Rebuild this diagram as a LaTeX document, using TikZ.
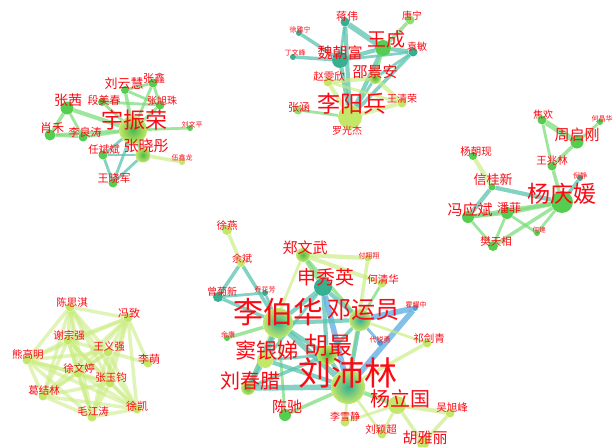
\documentclass[tikz,border=0pt]{standalone}
\usepackage{fontspec}
\newfontfamily\cjk{Noto Sans CJK SC}
\pgfdeclarelayer{bg}
\pgfsetlayers{bg,main}
\definecolor{labred}{RGB}{250,10,20}
\definecolor{cG}{RGB}{85,205,80}
\definecolor{cLG}{RGB}{140,225,110}
\definecolor{cT}{RGB}{55,175,145}
\definecolor{cY}{RGB}{195,232,105}
\definecolor{cB}{RGB}{80,160,215}
\definecolor{edT}{RGB}{90,195,175}
\definecolor{edG}{RGB}{125,220,125}
\definecolor{edY}{RGB}{200,235,125}
\definecolor{edB}{RGB}{110,180,230}
\tikzset{
  vtx/.style={circle, inner sep=0pt, draw=none},
  nG/.style={fill=cG}, nLG/.style={fill=cLG}, nT/.style={fill=cT},
  nY/.style={fill=cY}, nB/.style={fill=cB},
  nYG/.style={shading=radial, inner color=cG!90!black, outer color=cY},
  nYT/.style={shading=radial, inner color=cT, outer color=cY},
  lab/.style={text=labred, inner sep=0pt},
  eT/.style={draw=edT, opacity=0.75, line width=1.4*#1pt}, eT/.default=2,
  eG/.style={draw=edG, opacity=0.75, line width=1.4*#1pt}, eG/.default=2,
  eY/.style={draw=edY, opacity=0.65, line width=1.4*#1pt}, eY/.default=2,
  eB/.style={draw=edB, opacity=0.85, line width=1.4*#1pt}, eB/.default=3,
}
\newcommand\vx[5]{\node[vtx, minimum size=#4pt, #5] (#1) at (#2,#3) {};}
\newcommand\lb[5]{\node[lab, font=\cjk\fontsize{#4}{#4}\selectfont] (l#1) at (#2,#3) {#5};}
\begin{document}
\begin{tikzpicture}[x=1pt,y=-1pt]
\useasboundingbox (0,0) rectangle (614,447);
% ---------------- cluster 1
\vx{yzr}{133}{130}{28}{nYG}
\vx{lyh}{125}{90}{8}{nG}
\vx{zx}{153}{83}{9}{nG}
\vx{zq}{67}{108}{13}{nG}
\vx{dmc}{102}{102}{8}{nG}
\vx{zxz}{160}{105}{9}{nG}
\vx{xh}{50}{135}{11}{nG}
\vx{llt}{83}{137}{9}{nG}
\vx{lwp}{190}{128}{6}{nG}
\vx{zxt}{143}{155}{15}{nYG}
\vx{rbb}{103}{155}{9}{nG}
\vx{wxl}{182}{162}{6}{nY}
\vx{wxj}{113}{183}{9}{nG}
% ---------------- cluster 2
\vx{lyb}{350}{117}{24}{nY}
\vx{wc}{383}{48}{16}{nG}
\vx{wcf}{340}{60}{16}{nT}
\vx{sja}{375}{78}{12}{nYG}
\vx{jw}{345}{22}{9}{nT}
\vx{tn}{410}{20}{9}{nLG}
\vx{ym}{413}{52}{9}{nT}
\vx{xyn}{299}{33}{6}{nT}
\vx{dwf}{293}{57}{6}{nT}
\vx{zwx}{328}{82}{9}{nY}
\vx{wqr}{402}{103}{9}{nY}
\vx{zh}{298}{110}{9}{nLG}
\vx{lgj}{347}{126}{6}{nY}
% ---------------- cluster 3
\vx{yqy}{562}{202}{22}{nG}
\vx{zqg}{577}{142}{13}{nG}
\vx{jh}{542}{120}{9}{nG}
\vx{hjh}{600}{122}{6}{nG}
\vx{wzl}{552}{166}{9}{nG}
\vx{ycx}{473}{156}{8}{nG}
\vx{xgx}{492}{187}{7}{nG}
\vx{nj}{580}{178}{6}{nT}
\vx{fyb}{468}{217}{12}{nG}
\vx{pf}{507}{213}{12}{nG}
\vx{hj}{537}{233}{6}{nG}
\vx{ftx}{493}{246}{10}{nG}
% ---------------- cluster 4
\vx{csq}{70}{307}{9}{nY}
\vx{fz}{128}{318}{9}{nY}
\vx{xzq}{68}{340}{9}{nY}
\vx{wyq}{108}{352}{9}{nY}
\vx{xgm}{27}{360}{9}{nY}
\vx{lm}{148}{363}{9}{nY}
\vx{xwt}{78}{373}{9}{nY}
\vx{zyj}{110}{383}{9}{nY}
\vx{gjl}{43}{396}{9}{nY}
\vx{xk}{137}{409}{9}{nY}
\vx{mjt}{92}{417}{9}{nY}
% ---------------- cluster 5
\vx{xy}{227}{230}{10}{nY}
\vx{yb}{241}{263}{8}{nY}
\vx{zww}{303}{255}{14}{nYG}
\vx{fxx}{368}{258}{7}{nY}
\vx{sxy}{323}{287}{18}{nT}
\vx{hqh}{382}{283}{9}{nY}
\vx{cjx}{218}{297}{10}{nT}
\vx{qhf}{265}{293}{6}{nT}
\vx{lbh}{278}{323}{30}{nYT}
\vx{dyy}{360}{320}{22}{nYT}
\vx{hyz}{415}{308}{6}{nB}
\vx{yk}{227}{338}{6}{nG}
\vx{yyd}{265}{360}{16}{nY}
\vx{hz}{327}{355}{20}{nYG}
\vx{dry}{380}{343}{6}{nB}
\vx{qjq}{427}{343}{9}{nY}
\vx{lpl}{348}{387}{34}{nYT}
\vx{lcl}{248}{388}{14}{nYG}
\vx{ylg}{397}{405}{18}{nY}
\vx{cc}{285}{415}{12}{nG}
\vx{wxf}{450}{413}{9}{nY}
\vx{lxj}{345}{422}{9}{nY}
\vx{lyc}{382}{434}{9}{nY}
\vx{hyl}{423}{443}{12}{nY}
% ---------------- edges
\begin{pgfonlayer}{bg}
% cluster 1
\draw[eG=2.5] (yzr) -- (lyh);
\foreach \b in {zx,zxz,dmc,xh,llt,lwp} \draw[eG=2] (yzr) -- (\b);
\draw[eG=3] (yzr) -- (zq);
\draw[eG=3] (yzr) -- (zxt);
\draw[eT=2] (yzr) -- (rbb);
\draw[eT=2] (yzr) -- (wxj);
\draw[eG=2.5] (zq) -- (xh);
\draw[eG=2] (zq) -- (llt);
\draw[eG=2] (xh) -- (llt);
\draw[eG=2] (lyh) -- (zx);
\draw[eG=2] (lyh) -- (zxz);
\draw[eG=2] (zx) -- (zxz);
\draw[eG=2] (dmc) -- (zxz);
\draw[eY=2.5] (zxt) -- (wxl);
\draw[eT=2] (zxt) -- (wxj);
\draw[eT=2] (rbb) -- (wxj);
\draw[eT=2] (zxt) -- (rbb);
% cluster 2
\draw[eT=3] (lyb) -- (jw);
\draw[eT=3] (lyb) -- (wc);
\draw[eT=2.5] (lyb) -- (ym);
\draw[eT=3] (lyb) -- (wcf);
\draw[eT=4] (jw) -- (wc);
\draw[eT=2] (jw) -- (wcf);
\draw[eT=3] (wc) -- (ym);
\draw[eT=3] (wc) -- (wcf);
\draw[eT=2.5] (wcf) -- (xyn);
\draw[eT=2.5] (wcf) -- (dwf);
\draw[eT=2] (wcf) -- (ym);
\draw[eT=2] (sja) -- (ym);
\draw[eT=2] (lyb) -- (sja);
\draw[eG=2.5] (wc) -- (tn);
\draw[eG=2] (lyb) -- (zh);
\draw[eG=2] (wc) -- (sja);
\draw[eY=3] (lyb) -- (zwx);
\draw[eY=3] (lyb) -- (wqr);
\draw[eY=3] (zwx) -- (sja);
\draw[eY=3] (sja) -- (wqr);
\draw[eY=2] (zwx) -- (wqr);
\draw[eY=2] (lyb) -- (lgj);
% cluster 3
\draw[eG=2.5] (yqy) -- (wzl);
\draw[eG=2] (wzl) -- (jh);
\draw[eG=2.5] (wzl) -- (zqg);
\draw[eG=4] (jh) -- (zqg);
\draw[eG=2] (zqg) -- (hjh);
\draw[eG=3] (yqy) -- (fyb);
\draw[eG=3] (yqy) -- (pf);
\draw[eG=2.5] (fyb) -- (pf);
\draw[eG=2.5] (yqy) -- (ftx);
\draw[eG=2] (yqy) -- (hj);
\draw[eG=2] (pf) -- (ftx);
\draw[eG=2] (pf) -- (hj);
\draw[eG=2] (fyb) -- (ftx);
\draw[eY=3] (xgx) -- (ycx);
\draw[eT=2.5] (yqy) -- (nj);
\draw[eT=3] (yqy) -- (xgx);
\draw[eT=3] (xgx) -- (fyb);
% cluster 4
\foreach \a [count=\i] in {csq,fz,xzq,wyq,xgm,xwt,zyj,gjl,xk,mjt}{
  \foreach \b [count=\j] in {csq,fz,xzq,wyq,xgm,xwt,zyj,gjl,xk,mjt}{
    \ifnum\j>\i \draw[eY=2.5, opacity=0.55] (\a) -- (\b); \fi
  }
}
\draw[eY=2.5, opacity=0.55] (lm) -- (fz);
\draw[eY=2.5, opacity=0.55] (lm) -- (wyq);
% cluster 5
\draw[eY=2.5] (xy) -- (yb);
\draw[eY=3] (zww) -- (fxx);
\draw[eY=3] (zww) -- (hqh);
\draw[eY=2] (zww) -- (lcl);
\draw[eY=2.5] (fxx) -- (lpl);
\draw[eG=2] (hqh) -- (dyy);
\draw[eG=3] (zww) -- (sxy);
\draw[eG=2.5] (zww) -- (dyy);
\draw[eT=2.5] (yb) -- (cjx);
\draw[eT=2.5] (yb) -- (lbh);
\draw[eT=2] (cjx) -- (qhf);
\draw[eT=2.5] (cjx) -- (lbh);
\draw[eT=2] (qhf) -- (lbh);
\draw[eT=3] (sxy) -- (lbh);
\draw[eT=3] (sxy) -- (dyy);
\draw[eT=3] (sxy) -- (hz);
\draw[eB=4] (sxy) -- (lpl);
\draw[eT=2] (sxy) -- (yyd);
\draw[eT=3] (lbh) -- (dyy);
\draw[eT=3] (lbh) -- (hz);
\draw[eT=4] (lbh) -- (lpl);
\draw[eT=3] (lbh) -- (yyd);
\draw[eT=3] (lbh) -- (lcl);
\draw[eG=2.5] (lbh) -- (yk);
\draw[eG=2] (lbh) -- (cc);
\draw[eT=3] (dyy) -- (lpl);
\draw[eT=2.5] (dyy) -- (hz);
\draw[eB=4] (dyy) -- (hyz);
\draw[eB=4] (hyz) -- (lpl);
\draw[eB=2] (dyy) -- (dry);
\draw[eY=2] (dyy) -- (qjq);
\draw[eY=2.5] (lpl) -- (qjq);
\draw[eT=3] (lpl) -- (hz);
\draw[eT=3] (lpl) -- (yyd);
\draw[eT=4] (lpl) -- (lcl);
\draw[eG=3] (lpl) -- (ylg);
\draw[eG=2.5] (lpl) -- (cc);
\draw[eY=2] (lpl) -- (lxj);
\draw[eY=2] (lpl) -- (lyc);
\draw[eY=3] (ylg) -- (wxf);
\draw[eY=2.5] (ylg) -- (hyl);
\draw[eY=2.5] (wxf) -- (hyl);
\draw[eY=2] (ylg) -- (lyc);
\draw[eY=2] (ylg) -- (lxj);
\draw[eT=2] (hz) -- (yyd);
\draw[eT=2.5] (yyd) -- (lcl);
\draw[eT=2.5] (lcl) -- (hz);
\end{pgfonlayer}
% ---------------- labels cluster 1
\lb{yzr}{134}{120}{22}{宇振荣}
\lb{lyh}{124}{84}{13}{刘云慧}
\lb{zx}{154}{78}{11}{张鑫}
\lb{zq}{68}{100}{14}{张茜}
\lb{dmc}{104}{100}{11}{段美春}
\lb{zxz}{162}{101}{10}{张旭珠}
\lb{xh}{52}{128}{12}{肖禾}
\lb{llt}{85}{132}{11}{李良涛}
\lb{lwp}{192}{125}{7}{刘文平}
\lb{zxt}{146}{146}{15}{张晓彤}
\lb{rbb}{104}{150}{10.5}{任斌斌}
\lb{wxl}{182}{158}{7}{伍鑫龙}
\lb{wxj}{114}{178}{11}{王晓军}
% labels cluster 2
\lb{lyb}{352}{104}{23}{李阳兵}
\lb{wc}{386}{39}{19}{王成}
\lb{wcf}{340}{53}{15}{魏朝富}
\lb{sja}{375}{72}{15}{邵景安}
\lb{jw}{347}{16}{11}{蒋伟}
\lb{tn}{412}{16}{10}{唐宁}
\lb{ym}{417}{47}{10}{袁敏}
\lb{xyn}{300}{30}{7}{徐雅宁}
\lb{dwf}{295}{53}{7}{丁文峰}
\lb{zwx}{329}{77}{10.5}{赵雯欣}
\lb{wqr}{402}{99}{10}{王清荣}
\lb{zh}{299}{107}{11}{张涵}
\lb{lgj}{347}{131}{10}{罗光杰}
% labels cluster 3
\lb{yqy}{562}{194}{23}{杨庆媛}
\lb{zqg}{577}{135}{15}{周启刚}
\lb{jh}{543}{115}{10}{焦欢}
\lb{hjh}{602}{119}{7}{何晶华}
\lb{wzl}{552}{161}{10.5}{王兆林}
\lb{ycx}{476}{152}{10.5}{杨朝现}
\lb{xgx}{493}{180}{13}{信桂新}
\lb{nj}{580}{176}{7}{倪静}
\lb{fyb}{470}{210}{15}{冯应斌}
\lb{pf}{509}{208}{12}{潘菲}
\lb{hj}{539}{230}{6.5}{何建}
\lb{ftx}{496}{242}{10.5}{樊天相}
% labels cluster 4
\lb{csq}{72}{302}{10.5}{陈思淇}
\lb{fz}{129}{313}{11}{冯致}
\lb{xzq}{69}{335}{10.5}{谢宗强}
\lb{wyq}{109}{347}{10.5}{王义强}
\lb{xgm}{28}{355}{10.5}{熊高明}
\lb{lm}{149}{359}{11}{李萌}
\lb{xwt}{79}{368}{10.5}{徐文婷}
\lb{zyj}{111}{378}{10.5}{张玉钧}
\lb{gjl}{44}{391}{10.5}{葛结林}
\lb{xk}{137}{406}{11}{徐凯}
\lb{mjt}{93}{412}{10.5}{毛江涛}
% labels cluster 5
\lb{xy}{227}{226}{10.5}{徐燕}
\lb{yb}{242}{259}{10}{余斌}
\lb{zww}{305}{248}{15}{郑文武}
\lb{fxx}{369}{256}{7}{付翔翔}
\lb{sxy}{326}{277}{19}{申秀英}
\lb{hqh}{383}{279}{10.5}{何清华}
\lb{cjx}{222}{292}{10}{曾菊新}
\lb{qhf}{265}{290}{7}{乔花芳}
\lb{lbh}{278}{312}{30}{李伯华}
\lb{dyy}{363}{310}{24}{邓运员}
\lb{hyz}{416}{305}{7}{霍耀中}
\lb{yk}{228}{335}{7}{余康}
\lb{yyd}{267}{350}{21}{窦银娣}
\lb{hz}{328}{345}{24}{胡最}
\lb{dry}{380}{340}{7}{代锐勇}
\lb{qjq}{429}{338}{10.5}{祁剑青}
\lb{lpl}{348}{373}{33}{刘沛林}
\lb{lcl}{250}{381}{20}{刘春腊}
\lb{ylg}{400}{399}{20}{杨立国}
\lb{cc}{287}{407}{15}{陈驰}
\lb{wxf}{452}{408}{10.5}{吴旭峰}
\lb{lxj}{345}{417}{10}{李雪静}
\lb{lyc}{381}{430}{10.5}{刘颖超}
\lb{hyl}{425}{438}{15}{胡雅丽}
\end{tikzpicture}
\end{document}
